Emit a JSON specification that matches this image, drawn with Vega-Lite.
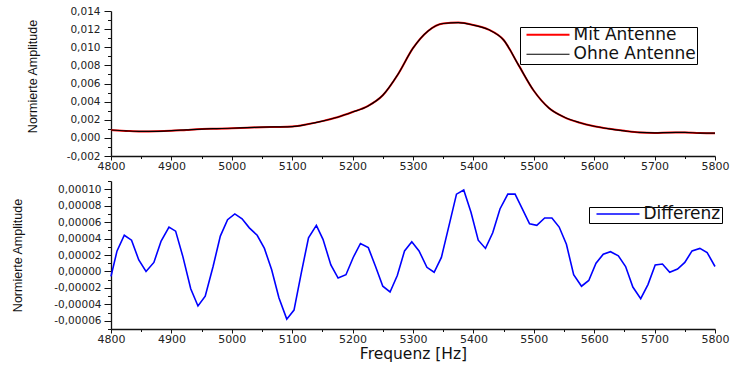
{
  "$schema": "https://vega.github.io/schema/vega-lite/v6.json",
  "padding": {"left": 11, "top": 6, "right": 5, "bottom": 0},
  "bounds": "flush",
  "spacing": 25,
  "config": {
    "locale": {"number": {"decimal": ",", "thousands": ".", "grouping": [3], "currency": ["", " €"], "minus": "-"}},
    "view": {"stroke": null},
    "axis": {"grid": false, "domainColor": "#111", "domainWidth": 1.3, "tickColor": "#111", "labelColor": "#222", "labelFont": "DejaVu Sans", "titleFont": "Liberation Sans", "titleFontWeight": "normal", "titleColor": "#111"},
    "legend": {"labelFont": "DejaVu Sans", "labelColor": "#111"}
  },
  "datasets": {
    "spec": [
      {"f": 4800, "Mit Antenne": 0.00087, "Ohne Antenne": 0.00087},
      {"f": 4825, "Mit Antenne": 0.00077, "Ohne Antenne": 0.00077},
      {"f": 4850, "Mit Antenne": 0.00070, "Ohne Antenne": 0.00071},
      {"f": 4875, "Mit Antenne": 0.00072, "Ohne Antenne": 0.00072},
      {"f": 4900, "Mit Antenne": 0.00078, "Ohne Antenne": 0.00079},
      {"f": 4925, "Mit Antenne": 0.00088, "Ohne Antenne": 0.00088},
      {"f": 4950, "Mit Antenne": 0.00097, "Ohne Antenne": 0.00097},
      {"f": 4975, "Mit Antenne": 0.00101, "Ohne Antenne": 0.00102},
      {"f": 5000, "Mit Antenne": 0.00106, "Ohne Antenne": 0.00106},
      {"f": 5025, "Mit Antenne": 0.00112, "Ohne Antenne": 0.00113},
      {"f": 5050, "Mit Antenne": 0.00118, "Ohne Antenne": 0.00118},
      {"f": 5075, "Mit Antenne": 0.00120, "Ohne Antenne": 0.00121},
      {"f": 5100, "Mit Antenne": 0.00125, "Ohne Antenne": 0.00125},
      {"f": 5125, "Mit Antenne": 0.00150, "Ohne Antenne": 0.00150},
      {"f": 5150, "Mit Antenne": 0.00185, "Ohne Antenne": 0.00185},
      {"f": 5175, "Mit Antenne": 0.00228, "Ohne Antenne": 0.00228},
      {"f": 5200, "Mit Antenne": 0.00285, "Ohne Antenne": 0.00285},
      {"f": 5225, "Mit Antenne": 0.00350, "Ohne Antenne": 0.00350},
      {"f": 5250, "Mit Antenne": 0.00470, "Ohne Antenne": 0.00470},
      {"f": 5275, "Mit Antenne": 0.00700, "Ohne Antenne": 0.00700},
      {"f": 5300, "Mit Antenne": 0.00990, "Ohne Antenne": 0.00990},
      {"f": 5325, "Mit Antenne": 0.01180, "Ohne Antenne": 0.01180},
      {"f": 5350, "Mit Antenne": 0.01262, "Ohne Antenne": 0.01262},
      {"f": 5375, "Mit Antenne": 0.01272, "Ohne Antenne": 0.01272},
      {"f": 5400, "Mit Antenne": 0.01245, "Ohne Antenne": 0.01245},
      {"f": 5425, "Mit Antenne": 0.01195, "Ohne Antenne": 0.01195},
      {"f": 5450, "Mit Antenne": 0.01080, "Ohne Antenne": 0.01080},
      {"f": 5475, "Mit Antenne": 0.00800, "Ohne Antenne": 0.00800},
      {"f": 5500, "Mit Antenne": 0.00520, "Ohne Antenne": 0.00520},
      {"f": 5525, "Mit Antenne": 0.00330, "Ohne Antenne": 0.00330},
      {"f": 5550, "Mit Antenne": 0.00230, "Ohne Antenne": 0.00230},
      {"f": 5575, "Mit Antenne": 0.00170, "Ohne Antenne": 0.00170},
      {"f": 5600, "Mit Antenne": 0.00128, "Ohne Antenne": 0.00128},
      {"f": 5625, "Mit Antenne": 0.00100, "Ohne Antenne": 0.00100},
      {"f": 5650, "Mit Antenne": 0.00078, "Ohne Antenne": 0.00078},
      {"f": 5675, "Mit Antenne": 0.00060, "Ohne Antenne": 0.00060},
      {"f": 5700, "Mit Antenne": 0.00055, "Ohne Antenne": 0.00055},
      {"f": 5725, "Mit Antenne": 0.00060, "Ohne Antenne": 0.00059},
      {"f": 5750, "Mit Antenne": 0.00060, "Ohne Antenne": 0.00060},
      {"f": 5775, "Mit Antenne": 0.00053, "Ohne Antenne": 0.00053},
      {"f": 5800, "Mit Antenne": 0.00052, "Ohne Antenne": 0.00052}
    ],
    "diff": [
      {"f": 4800, "Differenz": -0.000006},
      {"f": 4810, "Differenz": 0.000025},
      {"f": 4822, "Differenz": 0.000044},
      {"f": 4834, "Differenz": 0.000038},
      {"f": 4846, "Differenz": 0.000014},
      {"f": 4858, "Differenz": 0.000000},
      {"f": 4871, "Differenz": 0.000011},
      {"f": 4883, "Differenz": 0.000037},
      {"f": 4896, "Differenz": 0.000054},
      {"f": 4907, "Differenz": 0.000049},
      {"f": 4919, "Differenz": 0.000018},
      {"f": 4932, "Differenz": -0.000021},
      {"f": 4944, "Differenz": -0.000042},
      {"f": 4956, "Differenz": -0.000030},
      {"f": 4969, "Differenz": 0.000006},
      {"f": 4981, "Differenz": 0.000043},
      {"f": 4993, "Differenz": 0.000063},
      {"f": 5005, "Differenz": 0.000070},
      {"f": 5017, "Differenz": 0.000064},
      {"f": 5029, "Differenz": 0.000053},
      {"f": 5042, "Differenz": 0.000044},
      {"f": 5054, "Differenz": 0.000028},
      {"f": 5066, "Differenz": 0.000002},
      {"f": 5078, "Differenz": -0.000032},
      {"f": 5091, "Differenz": -0.000058},
      {"f": 5103, "Differenz": -0.000047},
      {"f": 5115, "Differenz": -0.000002},
      {"f": 5127, "Differenz": 0.000041},
      {"f": 5140, "Differenz": 0.000056},
      {"f": 5151, "Differenz": 0.000039},
      {"f": 5164, "Differenz": 0.000008},
      {"f": 5176, "Differenz": -0.000008},
      {"f": 5189, "Differenz": -0.000004},
      {"f": 5201, "Differenz": 0.000017},
      {"f": 5213, "Differenz": 0.000034},
      {"f": 5226, "Differenz": 0.000029},
      {"f": 5238, "Differenz": 0.000006},
      {"f": 5250, "Differenz": -0.000018},
      {"f": 5262, "Differenz": -0.000025},
      {"f": 5274, "Differenz": -0.000005},
      {"f": 5286, "Differenz": 0.000025},
      {"f": 5298, "Differenz": 0.000036},
      {"f": 5310, "Differenz": 0.000025},
      {"f": 5323, "Differenz": 0.000005},
      {"f": 5335, "Differenz": -0.000001},
      {"f": 5347, "Differenz": 0.000017},
      {"f": 5360, "Differenz": 0.000057},
      {"f": 5372, "Differenz": 0.000094},
      {"f": 5384, "Differenz": 0.000099},
      {"f": 5396, "Differenz": 0.000072},
      {"f": 5408, "Differenz": 0.000038},
      {"f": 5420, "Differenz": 0.000028},
      {"f": 5432, "Differenz": 0.000047},
      {"f": 5444, "Differenz": 0.000076},
      {"f": 5457, "Differenz": 0.000094},
      {"f": 5469, "Differenz": 0.000094},
      {"f": 5481, "Differenz": 0.000076},
      {"f": 5493, "Differenz": 0.000058},
      {"f": 5505, "Differenz": 0.000056},
      {"f": 5518, "Differenz": 0.000065},
      {"f": 5530, "Differenz": 0.000065},
      {"f": 5542, "Differenz": 0.000054},
      {"f": 5554, "Differenz": 0.000033},
      {"f": 5566, "Differenz": -0.000004},
      {"f": 5579, "Differenz": -0.000018},
      {"f": 5591, "Differenz": -0.000011},
      {"f": 5603, "Differenz": 0.000010},
      {"f": 5615, "Differenz": 0.000021},
      {"f": 5627, "Differenz": 0.000024},
      {"f": 5640, "Differenz": 0.000019},
      {"f": 5652, "Differenz": 0.000006},
      {"f": 5664, "Differenz": -0.000019},
      {"f": 5677, "Differenz": -0.000033},
      {"f": 5689, "Differenz": -0.000016},
      {"f": 5701, "Differenz": 0.000008},
      {"f": 5713, "Differenz": 0.000009},
      {"f": 5725, "Differenz": -0.000001},
      {"f": 5738, "Differenz": 0.000003},
      {"f": 5750, "Differenz": 0.000011},
      {"f": 5762, "Differenz": 0.000025},
      {"f": 5775, "Differenz": 0.000028},
      {"f": 5787, "Differenz": 0.000023},
      {"f": 5800, "Differenz": 0.000006}
    ]
  },
  "resolve": {"scale": {"x": "independent", "y": "independent", "color": "independent", "strokeWidth": "independent"}, "legend": {"color": "independent"}},
  "vconcat": [
    {
      "width": 604,
      "height": 145,
      "data": {"name": "spec"},
      "transform": [{"fold": ["Mit Antenne", "Ohne Antenne"], "as": ["s", "a"]}],
      "resolve": {"axis": {"x": "independent", "y": "independent"}},
      "layer": [
        {
          "mark": {"type": "line", "opacity": 0},
          "encoding": {
            "x": {"field": "f", "type": "quantitative", "scale": {"domain": [4800, 5800], "nice": false, "zero": false},
              "axis": {"orient": "bottom", "values": [4850, 4950, 5050, 5150, 5250, 5350, 5450, 5550, 5650, 5750], "labels": false, "domain": false, "tickSize": 2.5, "title": null}},
            "y": {"field": "a", "type": "quantitative", "scale": {"domain": [-0.002, 0.014], "nice": false, "zero": false},
              "axis": {"orient": "left", "values": [-0.001, 0.001, 0.003, 0.005, 0.007, 0.009, 0.011, 0.013], "labels": false, "domain": false, "tickSize": 3.5, "title": null}}
          }
        },
        {
          "mark": {"type": "line", "interpolate": "monotone"},
          "encoding": {
            "x": {"field": "f", "type": "quantitative",
              "axis": {"orient": "bottom", "values": [4800, 4900, 5000, 5100, 5200, 5300, 5400, 5500, 5600, 5700, 5800], "format": "d", "labelFontSize": 11, "labelFlush": false, "labelOverlap": false, "tickSize": 4, "labelPadding": 0, "title": null}},
            "y": {"field": "a", "type": "quantitative",
              "axis": {"orient": "left", "values": [-0.002, 0, 0.002, 0.004, 0.006, 0.008, 0.01, 0.012, 0.014], "format": ".3f", "labelFontSize": 10.5, "tickSize": 7, "labelPadding": 4, "title": "Normierte Amplitude", "titleFontSize": 12.5, "titlePadding": 27, "titleY": 65}},
            "color": {"field": "s", "type": "nominal", "scale": {"domain": ["Mit Antenne", "Ohne Antenne"], "range": ["#ff0000", "#000000"]},
              "legend": {"orient": "none", "legendX": 409, "legendY": 16, "direction": "vertical", "title": null, "strokeColor": "#000", "padding": 1, "symbolType": "stroke", "symbolSize": 1849, "symbolStrokeWidth": 1.2, "clipHeight": 13.5, "rowPadding": 1.5, "symbolOffset": 4.5, "labelOffset": 3, "labelFontSize": 17}},
            "strokeWidth": {"field": "s", "type": "nominal", "scale": {"domain": ["Mit Antenne", "Ohne Antenne"], "range": [2, 1.2]}, "legend": null}
          }
        }
      ]
    },
    {
      "width": 604,
      "height": 148,
      "data": {"name": "diff"},
      "transform": [{"fold": ["Differenz"], "as": ["s", "d"]}],
      "resolve": {"axis": {"x": "independent", "y": "independent"}},
      "layer": [
        {
          "mark": {"type": "line", "opacity": 0},
          "encoding": {
            "x": {"field": "f", "type": "quantitative", "scale": {"domain": [4800, 5800], "nice": false, "zero": false},
              "axis": {"orient": "bottom", "values": [4850, 4950, 5050, 5150, 5250, 5350, 5450, 5550, 5650, 5750], "labels": false, "domain": false, "tickSize": 2.5, "title": null}},
            "y": {"field": "d", "type": "quantitative", "scale": {"domain": [-0.00007, 0.00011], "nice": false, "zero": false},
              "axis": {"orient": "left", "values": [-0.00007, -0.00005, -0.00003, -0.00001, 0.00001, 0.00003, 0.00005, 0.00007, 0.00009, 0.00011], "labels": false, "domain": false, "tickSize": 3.5, "title": null}}
          }
        },
        {
          "mark": {"type": "line", "strokeWidth": 1.6},
          "encoding": {
            "x": {"field": "f", "type": "quantitative",
              "axis": {"orient": "bottom", "values": [4800, 4900, 5000, 5100, 5200, 5300, 5400, 5500, 5600, 5700, 5800], "format": "d", "labelFontSize": 11, "labelFlush": false, "labelOverlap": false, "tickSize": 4, "labelPadding": 0, "title": "Frequenz [Hz]", "titleFont": "DejaVu Sans", "titleFontSize": 15.5, "titlePadding": 2}},
            "y": {"field": "d", "type": "quantitative",
              "axis": {"orient": "left", "values": [-0.00006, -0.00004, -0.00002, 0, 0.00002, 0.00004, 0.00006, 0.00008, 0.0001], "format": ".5f", "labelFontSize": 10.5, "tickSize": 7, "labelPadding": 3, "title": "Normierte Amplitude", "titleFontSize": 12.5, "titlePadding": 29}},
            "color": {"field": "s", "type": "nominal", "scale": {"domain": ["Differenz"], "range": ["#0000ff"]},
              "legend": {"orient": "none", "legendX": 478, "legendY": 26, "direction": "vertical", "title": null, "strokeColor": "#000", "padding": 1, "symbolType": "stroke", "symbolSize": 1849, "symbolStrokeWidth": 1.5, "clipHeight": 12, "symbolOffset": 5.5, "labelOffset": 3, "labelFontSize": 17}}
          }
        }
      ]
    }
  ]
}
